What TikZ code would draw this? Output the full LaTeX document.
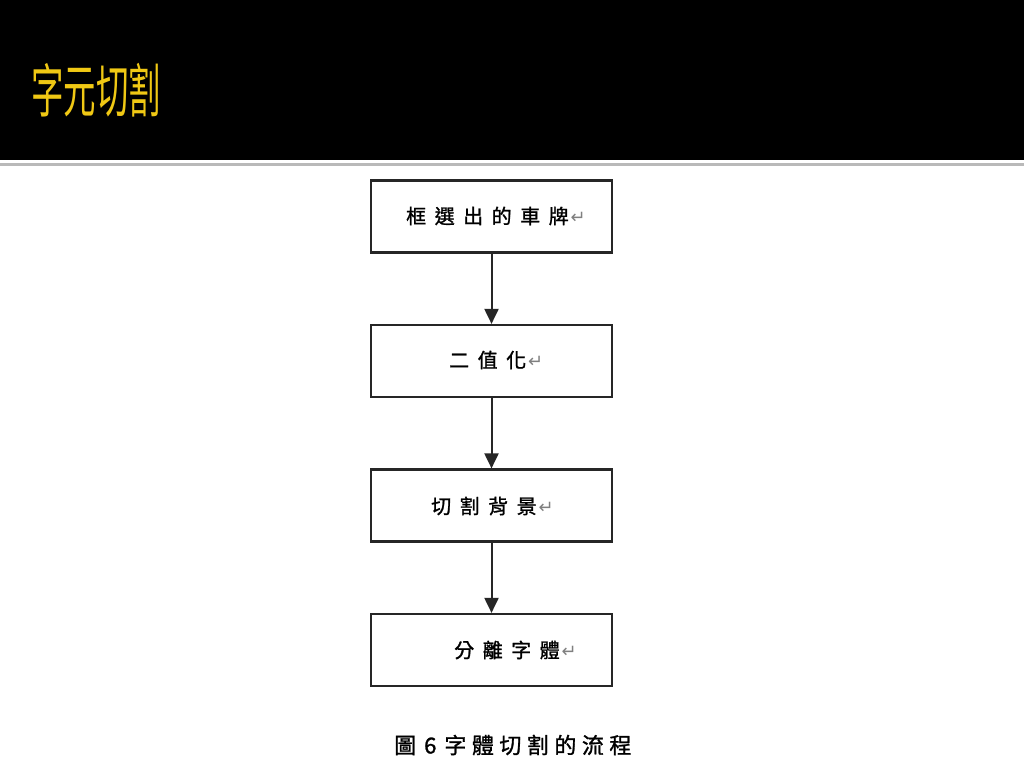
\documentclass[tikz,border=0pt]{standalone}
\usepackage{fontspec}
\usetikzlibrary{arrows.meta}
\newfontfamily\cjk[FakeBold=1.2]{Noto Sans CJK TC}
\newfontfamily\cjktitle[FakeStretch=0.56]{Noto Sans CJK TC}
\newfontfamily\symf{DejaVu Sans}
\definecolor{gold}{RGB}{240,200,20}
\newcommand\gp{\hspace{8.5pt}}
\newcommand\ret{\hspace{2pt}{\symf\color{gray}\fontsize{18pt}{18pt}\selectfont ↵}}
\begin{document}
\begin{tikzpicture}[x=1pt,y=-1pt,
  box/.style={draw=black!85,line width=2.2pt,minimum width=241pt,minimum height=72pt,inner sep=0pt,fill=white},
  btext/.style={font=\cjk\fontsize{20pt}{20pt}\selectfont},
  arr/.style={line width=2pt,black!85,-{Triangle[width=14pt,length=15pt]}}]
\useasboundingbox (0,0) rectangle (1024,768);
\fill[white] (0,0) rectangle (1024,768);
\fill[black] (0,0) rectangle (1024,160);
\draw[gray!55,line width=3pt] (0,164) -- (1024,164);
\node[anchor=west,text=gold,font=\cjktitle\fontsize{58pt}{58pt}\selectfont,inner sep=0pt] (title) at (31,90) {字元切割};
\node[box] (b1) at (491.5,216.5) {};
\node[box] (b2) at (491.5,361) {};
\node[box] (b3) at (491.5,505.5) {};
\node[box] (b4) at (491.5,650) {};
\node[btext,anchor=west,inner sep=0pt] (t1) at (406,216) {框\gp 選\gp 出\gp 的\gp 車\gp 牌\ret};
\node[btext,anchor=west,inner sep=0pt] (t2) at (449,360) {二\gp 值\gp 化\ret};
\node[btext,anchor=west,inner sep=0pt] (t3) at (431,506) {切\gp 割\gp 背\gp 景\ret};
\node[btext,anchor=west,inner sep=0pt] (t4) at (454,650) {分\gp 離\gp 字\gp 體\ret};
\draw[arr] (b1.south) -- (b2.north);
\draw[arr] (b2.south) -- (b3.north);
\draw[arr] (b3.south) -- (b4.north);
\node[anchor=west,inner sep=0pt,font=\cjk\fontsize{22pt}{22pt}\selectfont] (cap) at (394,745) {圖\hspace{8pt}6\hspace{8pt}字\hspace{5.5pt}體\hspace{5.5pt}切\hspace{5.5pt}割\hspace{5.5pt}的\hspace{5.5pt}流\hspace{5.5pt}程};
\end{tikzpicture}
\end{document}
